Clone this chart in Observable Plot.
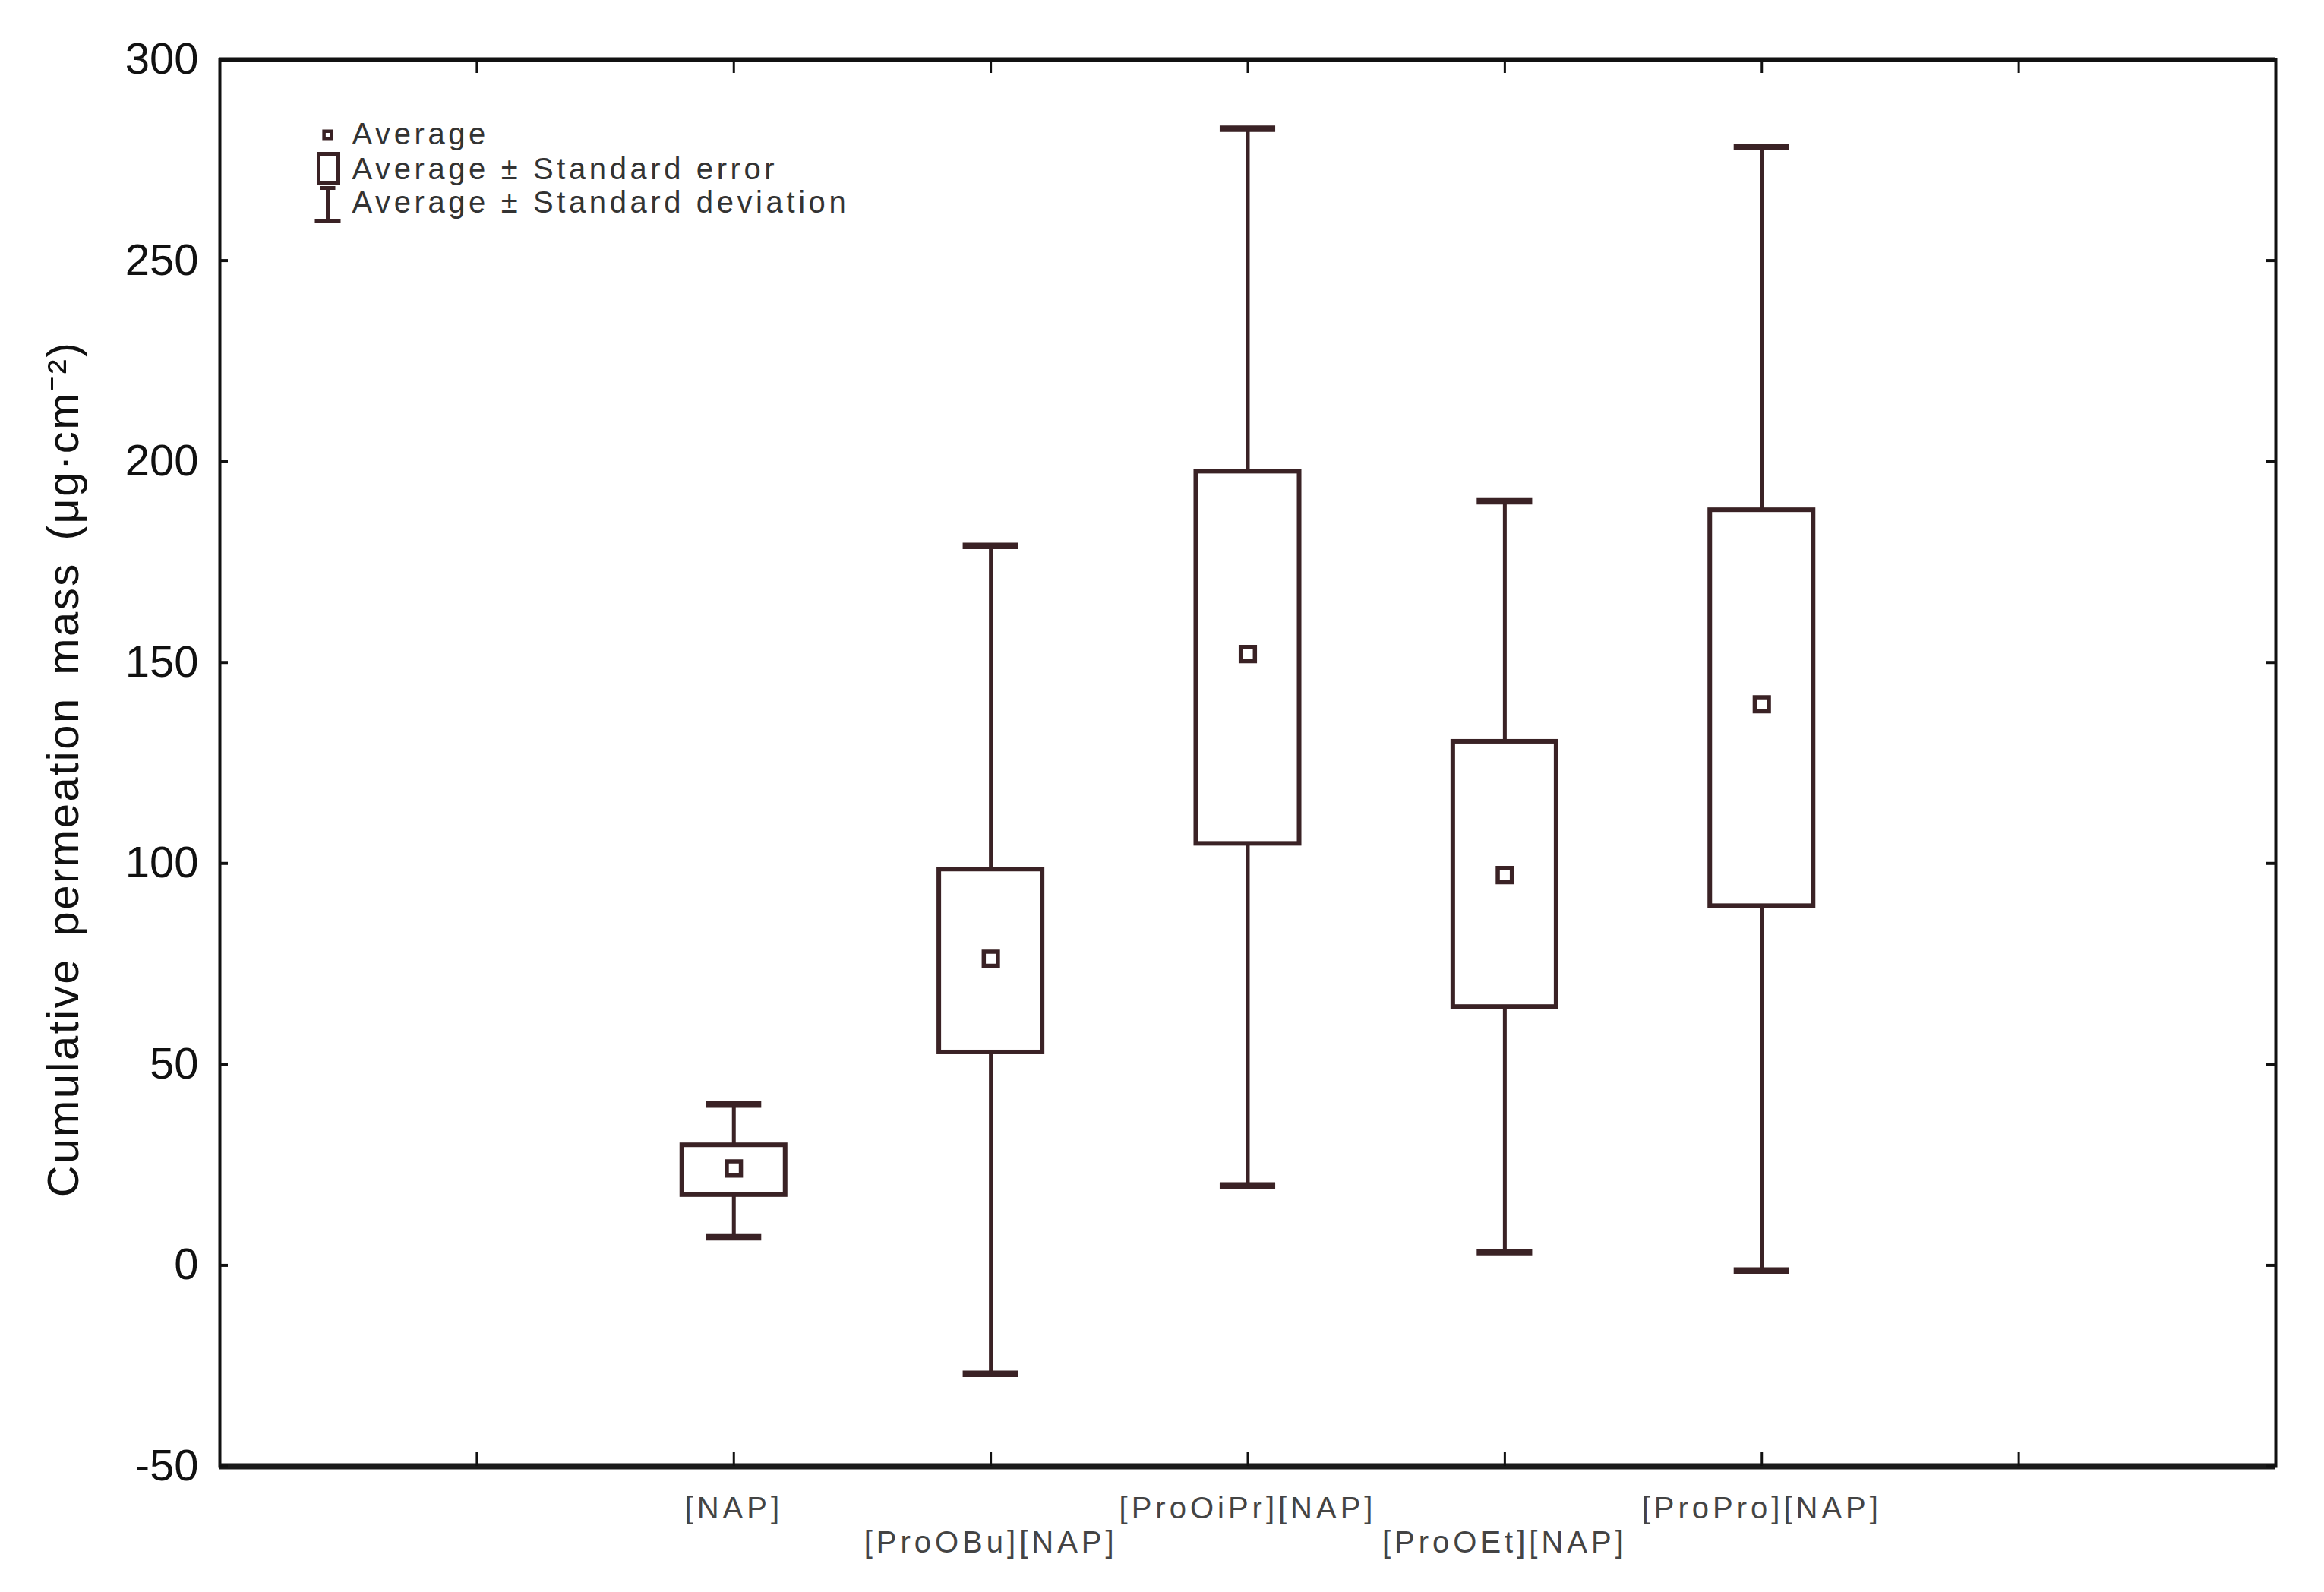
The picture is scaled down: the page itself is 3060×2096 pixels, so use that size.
<!DOCTYPE html>
<html>
<head>
<meta charset="utf-8">
<script src="https://cdn.jsdelivr.net/npm/d3@7"></script>
<script src="https://cdn.jsdelivr.net/npm/@observablehq/plot@0.6"></script>
<style>
html, body { margin: 0; padding: 0; background: #ffffff; }
#chart { width: 3060px; height: 2096px; }
</style>
</head>
<body>
<div id="chart"></div>
<script>
// ---- data ----
const categories = ["[NAP]", "[ProOBu][NAP]", "[ProOiPr][NAP]", "[ProOEt][NAP]", "[ProPro][NAP]"];
const average = [24.1, 76.3, 152.1, 97.1, 139.6];
const seLow   = [17.5, 53.0, 104.9, 64.3, 89.4];
const seHigh  = [29.9, 98.5, 197.5, 130.3, 187.9];
const sdLow   = [7.0, -27.0, 19.9, 3.3, -1.3];
const sdHigh  = [40.0, 179.0, 282.8, 190.1, 278.3];
const yTicks  = [-50, 0, 50, 100, 150, 200, 250, 300];
const xSlots  = [1, 2, 3, 4, 5, 6, 7];   // tick slots on the category axis (0..8)
const legendLabels = ["Average", "Average \u00b1 Standard error", "Average \u00b1 Standard deviation"];
const yLabel = "Cumulative permeation mass (\u03bcg\u00b7cm\u207b\u00b2)";

// ---- layout ----
const W = 3060, H = 2096;
const mL = 289, mR = 64, mT = 78, mB = 166;
const plotW = W - mL - mR, plotH = H - mT - mB;
const ink = "#3a2225";
const boxHalf = 0.201, capHalf = 0.108;

const rows = categories.map((c, i) => ({
  cat: c, slot: i + 2, row: i % 2,
  avg: average[i], seLow: seLow[i], seHigh: seHigh[i], sdLow: sdLow[i], sdHigh: sdHigh[i]
}));

const boxSymbol = { draw(ctx) { ctx.rect(-13, -19, 26, 38); } };
const ibarSymbol = { draw(ctx) {
  ctx.moveTo(-10, -21); ctx.lineTo(10, -21);
  ctx.moveTo(0, -21); ctx.lineTo(0, 21);
  ctx.moveTo(-17, 22); ctx.lineTo(17, 22);
} };

const chart = Plot.plot({
  width: W, height: H,
  marginLeft: mL, marginRight: mR, marginTop: mT, marginBottom: mB,
  style: { fontFamily: "Liberation Sans, Arial, sans-serif", background: "#ffffff", color: "#111" },
  x: { domain: [0, 8], axis: null },
  y: { domain: [-50, 300], axis: null },
  marks: [
    // whiskers (± SD)
    Plot.ruleX(rows, { x: "slot", y1: "sdLow", y2: "sdHigh", stroke: ink, strokeWidth: 5 }),
    Plot.ruleY(rows, { y: "sdHigh", x1: d => d.slot - capHalf, x2: d => d.slot + capHalf, stroke: ink, strokeWidth: 8.5 }),
    Plot.ruleY(rows, { y: "sdLow", x1: d => d.slot - capHalf, x2: d => d.slot + capHalf, stroke: ink, strokeWidth: 8.5 }),
    // boxes (± SE)
    Plot.rect(rows, { x1: d => d.slot - boxHalf, x2: d => d.slot + boxHalf, y1: "seLow", y2: "seHigh",
      fill: "#ffffff", stroke: ink, strokeWidth: 6 }),
    // averages
    Plot.dot(rows, { x: "slot", y: "avg", symbol: "square", r: 10.5, fill: "#ffffff", stroke: ink, strokeWidth: 5.5 }),

    // frame & inward ticks
    Plot.frame({ stroke: "#111", strokeWidth: 4 }),
    Plot.ruleY([-50], { stroke: "#1a1a1a", strokeWidth: 8 }),
    Plot.ruleY([300], { stroke: "#111", strokeWidth: 6 }),
    Plot.ruleX(xSlots, { x: d => d, insetTop: plotH - 18, stroke: "#111", strokeWidth: 3 }),
    Plot.ruleX(xSlots, { x: d => d, insetBottom: plotH - 18, stroke: "#111", strokeWidth: 3 }),
    Plot.ruleY(yTicks, { y: d => d, insetRight: plotW - 11, stroke: "#111", strokeWidth: 4 }),
    Plot.ruleY(yTicks, { y: d => d, insetLeft: plotW - 13, stroke: "#111", strokeWidth: 4 }),

    // y tick labels
    Plot.text(yTicks, { y: d => d, text: d => String(d), frameAnchor: "left", dx: -28,
      textAnchor: "end", lineAnchor: "middle", fontSize: 58, fill: "#111" }),
    // y axis label
    Plot.text([yLabel], { text: d => d, frameAnchor: "left", dx: -205, dy: 8, rotate: -90,
      textAnchor: "middle", lineAnchor: "middle", fontSize: 58, fill: "#111" }),
    // category labels (staggered)
    Plot.text(rows.filter(d => d.row === 0), { x: "slot", text: "cat", frameAnchor: "bottom", dy: 56,
      textAnchor: "middle", lineAnchor: "middle", fontSize: 40, fill: "#444" }),
    Plot.text(rows.filter(d => d.row === 1), { x: "slot", text: "cat", frameAnchor: "bottom", dy: 101,
      textAnchor: "middle", lineAnchor: "middle", fontSize: 40, fill: "#444" }),

    // legend
    Plot.dot([legendLabels[0]], { frameAnchor: "top-left", dx: 142, dy: 99, symbol: "square", r: 5.5,
      fill: "#ffffff", stroke: ink, strokeWidth: 4.5 }),
    Plot.dot([legendLabels[1]], { frameAnchor: "top-left", dx: 143, dy: 143, symbol: boxSymbol, r: 10,
      fill: "#ffffff", stroke: ink, strokeWidth: 5 }),
    Plot.dot([legendLabels[2]], { frameAnchor: "top-left", dx: 142, dy: 190, symbol: ibarSymbol, r: 10,
      fill: "none", stroke: ink, strokeWidth: 5 }),
    Plot.text(legendLabels, { text: d => d, frameAnchor: "top-left", dx: 174,
      textAnchor: "start", lineAnchor: "middle", fontSize: 40, fill: "#333" })
  ]
});

// post-process: stagger legend rows & letter spacing like the reference
const svg = d3.select(chart);
svg.selectAll("text").each(function () {
  const t = this.textContent;
  const sel = d3.select(this);
  const li = legendLabels.indexOf(t);
  if (li >= 0) {
    const tr = sel.attr("transform") || "";
    const m = /translate\(([-\d.]+),([-\d.]+)\)/.exec(tr);
    if (m) sel.attr("transform", `translate(${m[1]},${+m[2] + [99, 145, 189][li]})`);
    sel.attr("letter-spacing", 4.6);
  } else if (categories.includes(t)) {
    sel.attr("letter-spacing", 5);
  } else if (t === yLabel) {
    sel.attr("letter-spacing", 2.5).attr("word-spacing", 10);
  }
});

document.getElementById("chart").appendChild(chart);
</script>
</body>
</html>
